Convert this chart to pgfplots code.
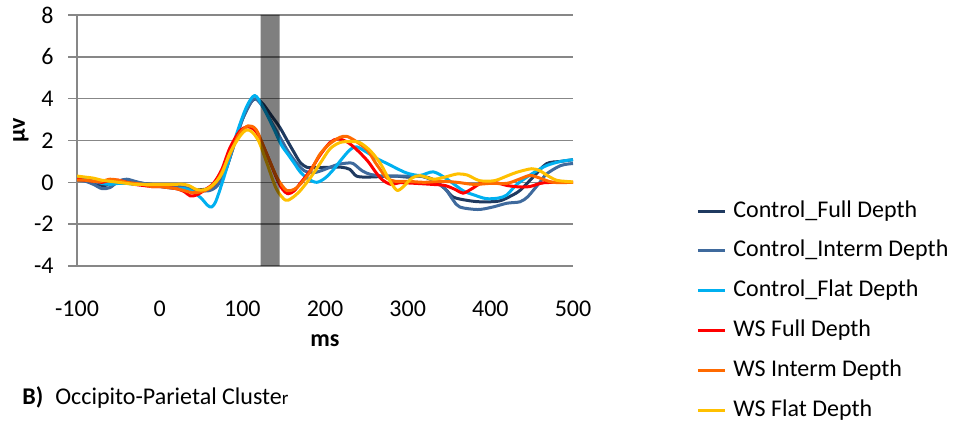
\documentclass[border=0pt]{standalone}
\usepackage{fontspec}
\setmainfont{Carlito}
\usepackage{pgfplots}
\pgfplotsset{compat=1.18}
\definecolor{cfull}{HTML}{1F3A60}
\definecolor{cint}{HTML}{3F6A9D}
\definecolor{cflat}{HTML}{00B0F0}
\definecolor{wfull}{HTML}{FF0000}
\definecolor{wint}{HTML}{FF6A00}
\definecolor{wflat}{HTML}{FFC000}
\definecolor{axgray}{HTML}{878787}
\begin{document}
\fontsize{12pt}{14pt}\selectfont
\begin{tikzpicture}
\path[use as bounding box] (0,0) rectangle (478pt,210.5pt);
\begin{axis}[
  at={(38.5pt,77.5pt)}, anchor=south west,
  scale only axis, width=248pt, height=125.5pt,
  xmin=-100, xmax=500, ymin=-4, ymax=8,
  xtick={-100,0,100,200,300,400,500},
  xticklabels={-100,0,100,200,300,400,500},
  ytick={-4,-2,0,2,4,6,8},
  yticklabels={-4,-2,0,2,4,6,8},
  axis x line*=bottom, axis y line*=left,
  x axis line style={draw=none},
  y axis line style={draw=axgray, line width=0.75pt},
  ymajorgrids, grid style={draw=axgray, line width=0.75pt},
  tick align=outside, major tick length=4.5pt,
  xtick style={draw=none},
  ytick style={draw=axgray, line width=0.75pt},
  ticklabel style={font=\fontsize{12pt}{14pt}\selectfont, inner sep=0pt},
  yticklabel style={anchor=east, xshift=-7pt},
  xticklabel style={anchor=base, yshift=-21pt},
  xlabel={\textbf{ms}},
  xlabel style={at={(axis description cs:0.5,0)}, anchor=base, yshift=-40.3pt, inner sep=0pt},
  ylabel={\textbf{µv}},
  ylabel style={at={(axis description cs:-0.1129,0.54)}, anchor=center, inner sep=0pt},
  legend cell align=left,
  legend style={at={(axis description cs:1.248,0.26)}, anchor=north west, draw=none, fill=none,
    inner sep=0pt, row sep=9.9pt, column sep=3.5pt,
    font=\fontsize{12pt}{14pt}\selectfont,
    nodes={inner sep=0pt, text height=8pt, text depth=2pt}},
  legend image code/.code={\draw[#1, line width=1.5pt] (0pt,0pt) -- (13.5pt,0pt);},
  every axis plot/.append style={line width=1.5pt, smooth, line join=round},
]
\addplot[cfull] coordinates {
(-100,0.15) (-90,0.1) (-80,0.0) (-70,-0.15) (-60,-0.1) (-50,0.05) (-40,0.1) (-30,0.0) (-20,-0.05) (-10,-0.1)
(0,-0.15) (10,-0.2) (20,-0.2) (30,-0.25) (40,-0.35) (50,-0.35) (60,-0.3) (70,-0.1) (80,0.6) (90,1.8)
(100,3.0) (110,3.8) (117,4.0) (125,3.75) (135,3.2) (145,2.65) (155,1.95) (163,1.4) (170,0.95) (178,0.72)
(190,0.7) (205,0.72) (220,0.72) (230,0.62) (238,0.3) (250,0.25) (270,0.28) (285,0.3) (300,0.25) (315,0.3)
(330,0.15) (345,-0.3) (355,-0.7) (370,-0.85) (387,-0.93) (410,-0.9) (425,-0.65) (436,-0.38) (452,0.26)
(468,0.89) (485,1.0) (500,1.08)
};
\addlegendentry{Control\_Full Depth}
\addplot[cint] coordinates {
(-100,0.1) (-90,0.05) (-80,-0.1) (-70,-0.3) (-60,-0.25) (-50,0.05) (-40,0.15) (-30,0.05) (-20,-0.05) (-10,-0.1)
(0,-0.15) (10,-0.2) (20,-0.2) (30,-0.25) (40,-0.35) (50,-0.4) (60,-0.4) (70,-0.15) (80,0.6) (90,1.8)
(100,3.0) (110,3.8) (116,4.0) (125,3.6) (135,2.9) (145,2.2) (155,1.5) (165,0.95) (175,0.55) (185,0.45)
(195,0.55) (205,0.7) (215,0.85) (227,0.92) (234,0.9) (245,0.55) (255,0.38) (270,0.3) (285,0.3) (300,0.3)
(315,0.3) (330,0.1) (345,-0.3) (355,-0.85) (363,-1.18) (385,-1.3) (403,-1.18) (420,-1.0) (436,-0.93)
(445,-0.7) (452,-0.38) (460,0.0) (468,0.4) (485,0.8) (500,0.9)
};
\addlegendentry{Control\_Interm Depth}
\addplot[cflat] coordinates {
(-100,0.2) (-90,0.15) (-80,0.05) (-70,-0.05) (-60,-0.1) (-50,-0.05) (-40,-0.05) (-30,-0.1) (-20,-0.1) (-10,-0.15)
(0,-0.2) (10,-0.25) (20,-0.3) (30,-0.3) (40,-0.45) (50,-0.75) (58,-1.1) (63,-1.18) (68,-0.9) (75,-0.1)
(82,0.8) (93,2.3) (105,3.6) (115,4.15) (125,3.6) (137,2.65) (147,1.8) (155,1.35) (163,0.9) (170,0.5)
(180,0.15) (190,0.0) (200,0.2) (210,0.6) (220,1.1) (230,1.55) (238,1.7) (250,1.45) (262,1.15) (275,0.9)
(290,0.6) (300,0.43) (315,0.33) (331,0.5) (347,0.17) (367,-0.4) (380,-0.6) (395,-0.78) (410,-0.75)
(420,-0.6) (432,-0.1) (452,0.45) (468,0.8) (485,1.0) (500,1.08)
};
\addlegendentry{Control\_Flat Depth}
\addplot[wfull] coordinates {
(-100,0.15) (-90,0.1) (-80,0.05) (-70,0.0) (-60,0.1) (-50,0.1) (-40,0.0) (-30,-0.1) (-20,-0.15) (-10,-0.2)
(0,-0.2) (10,-0.25) (20,-0.3) (30,-0.45) (37,-0.65) (45,-0.6) (55,-0.35) (65,-0.05) (75,0.6) (85,1.65)
(97,2.45) (107,2.65) (117,2.4) (129,1.4) (141,0.25) (148,-0.3) (155,-0.55) (163,-0.4) (170,-0.05) (182,0.55)
(194,1.3) (206,1.9) (216,2.08) (228,1.9) (240,1.5) (252,1.0) (262,0.45) (270,0.1) (280,-0.1) (290,-0.02)
(310,-0.05) (330,-0.1) (345,-0.15) (358,-0.35) (367,-0.52) (378,-0.3) (390,-0.02) (405,0.0) (420,-0.15)
(435,-0.22) (448,-0.2) (465,-0.02) (500,0.0)
};
\addlegendentry{WS Full Depth}
\addplot[wint] coordinates {
(-100,0.1) (-90,0.1) (-80,0.05) (-70,0.05) (-60,0.15) (-50,0.1) (-40,0.0) (-30,-0.05) (-20,-0.1) (-10,-0.2)
(0,-0.2) (10,-0.25) (20,-0.3) (30,-0.4) (40,-0.5) (50,-0.45) (60,-0.3) (70,0.1) (80,0.9) (90,1.8)
(97,2.35) (107,2.7) (117,2.5) (129,1.4) (141,0.3) (148,-0.15) (154,-0.4) (162,-0.35) (170,-0.1) (182,0.5)
(194,1.35) (206,1.85) (218,2.15) (226,2.2) (236,2.0) (251,1.55) (260,1.0) (267,0.6) (275,0.2) (285,0.05)
(300,0.05) (320,0.0) (340,0.05) (360,0.0) (380,-0.1) (400,-0.05) (420,-0.05) (435,0.15) (448,0.33)
(460,0.2) (476,0.0) (500,0.0)
};
\addlegendentry{WS Interm Depth}
\addplot[wflat] coordinates {
(-100,0.3) (-90,0.25) (-80,0.2) (-70,0.1) (-60,0.05) (-50,0.0) (-40,-0.05) (-30,-0.1) (-20,-0.1) (-10,-0.1)
(0,-0.1) (10,-0.1) (20,-0.1) (25,-0.08) (35,-0.15) (45,-0.35) (55,-0.35) (65,-0.1) (75,0.4) (85,1.4)
(97,2.2) (105,2.5) (112,2.4) (120,1.95) (129,1.0) (141,-0.3) (152,-0.85) (160,-0.75) (170,-0.4) (182,0.2)
(194,0.9) (206,1.6) (218,1.9) (230,1.95) (242,1.9) (255,1.5) (267,0.9) (278,0.1) (287,-0.38) (295,-0.2)
(305,0.2) (315,0.32) (331,0.15) (345,0.25) (360,0.4) (372,0.35) (387,0.08) (405,0.08) (420,0.3)
(432,0.48) (450,0.65) (460,0.55) (470,0.3) (480,0.1) (490,0.05) (500,0.02)
};
\addlegendentry{WS Flat Depth}
\addplot[draw=none, fill=black, fill opacity=0.5, forget plot, sharp plot] coordinates {(122,-4) (145,-4) (145,8) (122,8) (122,-4)};
\end{axis}
\node[anchor=base west, inner sep=0pt] at (11pt,8pt) {\textbf{B)}\hspace{6pt}Occipito-Parietal Cluste{\fontsize{9.5pt}{10pt}\selectfont r}};
\end{tikzpicture}
\end{document}
